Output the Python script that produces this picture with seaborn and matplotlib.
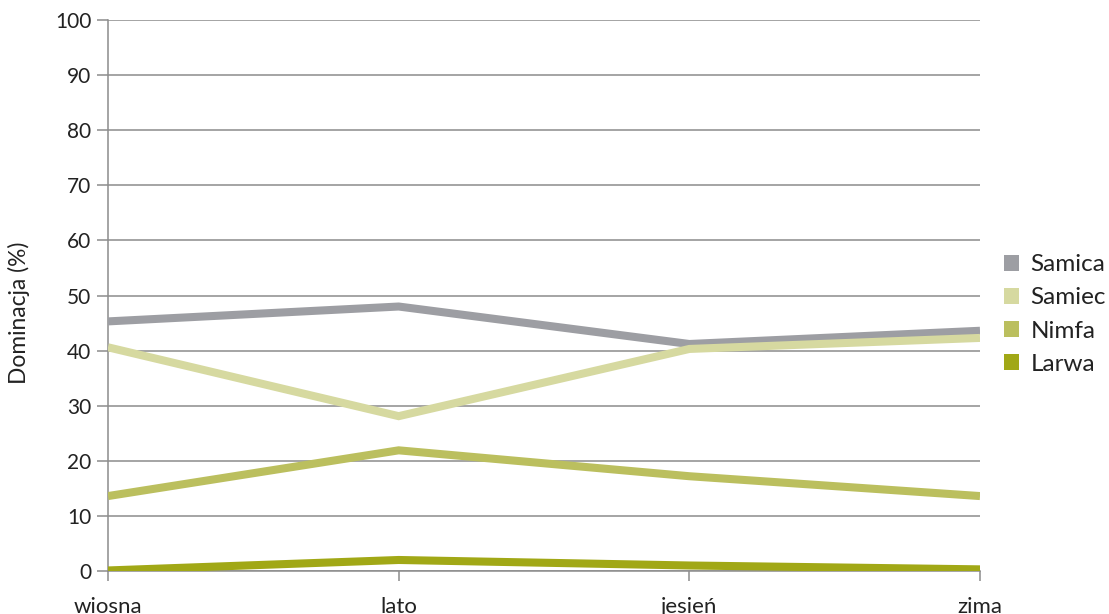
import matplotlib
matplotlib.use("Agg")
import matplotlib.pyplot as plt
from matplotlib.patches import Patch
import seaborn as sns
import pandas as pd

# Seasons on the x axis
seasons = ["wiosna", "lato", "jesień", "zima"]

# Dominance (%) of each developmental stage per season
samica = [45.3, 48.0, 41.2, 43.6]
samiec = [40.6, 28.1, 40.3, 42.3]
nimfa = [13.6, 21.9, 17.2, 13.6]
larwa = [0.1, 2.0, 1.0, 0.3]

stages = ["Samica", "Samiec", "Nimfa", "Larwa"]
colors = ["#9d9ea3", "#d6d9a0", "#bbbf5e", "#a1a816"]

y_ticks = list(range(0, 101, 10))

df = pd.DataFrame({
    "season": seasons * 4,
    "value": samica + samiec + nimfa + larwa,
    "stage": [s for s in stages for _ in seasons],
})

sns.set_style("white")
plt.rcParams["font.family"] = ["Lato", "DejaVu Sans"]

W, H = 1109, 614
fig = plt.figure(figsize=(W / 100, H / 100), dpi=100)
ax = fig.add_axes([108 / W, 1 - 571 / H, (980 - 108) / W, (571 - 20) / H])

palette = dict(zip(stages, colors))
sns.lineplot(data=df, x="season", y="value", hue="stage", hue_order=stages,
             palette=palette, linewidth=5.8, sort=False, ax=ax, legend=False,
             zorder=3)
for ln in ax.lines:
    ln.set_solid_capstyle("butt")
    ln.set_solid_joinstyle("miter")

grid_col = "#8c8c8c"
text_col = "#222222"
ax.set_xlim(0, 3)
ax.set_ylim(0, 100)
ax.set_yticks(y_ticks)
ax.set_xticks(range(len(seasons)))
ax.set_xticklabels(seasons)
ax.yaxis.grid(True, color=grid_col, linewidth=1.1)
ax.xaxis.grid(False)

for side in ["top", "right"]:
    ax.spines[side].set_visible(False)
for side in ["left", "bottom"]:
    ax.spines[side].set_color(grid_col)
    ax.spines[side].set_linewidth(1.1)

ax.tick_params(axis="y", length=8, width=1.1, color=grid_col, pad=4,
               labelsize=15, labelcolor=text_col, left=True)
ax.tick_params(axis="x", length=7, width=1.1, color=grid_col, pad=12,
               labelsize=16, labelcolor=text_col, bottom=True)
ax.set_xlabel("")
ax.set_ylabel("Dominacja (%)", fontsize=16.4, color=text_col)
ax.yaxis.set_label_coords((30 - 108) / 872, (571 - 313) / 551)

handles = [Patch(facecolor=c, edgecolor="none", label=s) for s, c in zip(stages, colors)]
fig.legend(handles=handles, loc="upper left", bbox_to_anchor=(997 / W, 1 - 247 / H),
           frameon=False, fontsize=17.5, handlelength=0.62, handleheight=0.62,
           handletextpad=0.45, labelspacing=0.5, labelcolor=text_col,
           borderaxespad=0, borderpad=0.3)

fig.savefig("out.png", dpi=100)
